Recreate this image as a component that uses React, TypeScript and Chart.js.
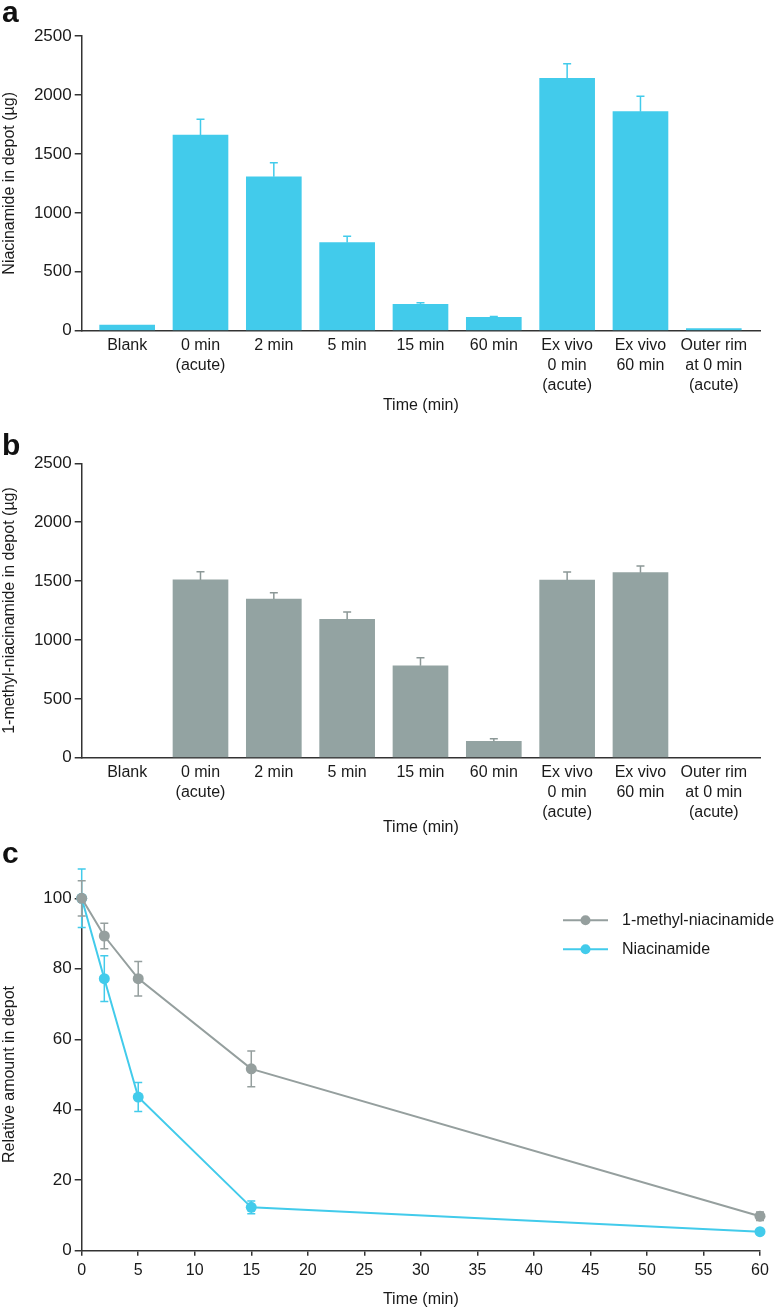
import React, { useEffect, useRef } from 'react';
import { Chart, registerables } from 'chart.js';

Chart.register(...registerables);

// ---------- data ----------
const CATEGORIES: string[][] = [
  ['Blank'],
  ['0 min', '(acute)'],
  ['2 min'],
  ['5 min'],
  ['15 min'],
  ['60 min'],
  ['Ex vivo', '0 min', '(acute)'],
  ['Ex vivo', '60 min'],
  ['Outer rim', 'at 0 min', '(acute)'],
];
const BAR_Y_TICKS = [0, 500, 1000, 1500, 2000, 2500];

const NIA_AMOUNT = [48, 1660, 1305, 748, 224, 113, 2140, 1858, 17];
const NIA_AMOUNT_ERR = [0, 133, 119, 54, 14, 8, 124, 130, 0];

const MNA_AMOUNT: (number | null)[] = [null, 1510, 1348, 1175, 781, 139, 1509, 1571, null];
const MNA_AMOUNT_ERR = [0, 70, 53, 62, 68, 22, 68, 57, 0];

const TIMES = [0, 2, 5, 15, 60];
const MNA_REL = [100, 89.3, 77.2, 51.6, 9.8];
const MNA_REL_ERR = [5, 3.6, 4.9, 5.1, 1.2];
const NIA_REL = [100, 77.2, 43.6, 12.3, 5.4];
const NIA_REL_ERR = [8.3, 6.5, 4.1, 1.8, 0.5];
const LINE_X_TICKS = [0, 5, 10, 15, 20, 25, 30, 35, 40, 45, 50, 55, 60];
const LINE_Y_TICKS = [0, 20, 40, 60, 80, 100];

// ---------- styles ----------
const CYAN = '#42CBEB';
const GRAY_BAR = '#93A3A2';
const GRAY_LINE = '#959F9E';
const AXIS = '#333333';
const TEXT = '#1a1a1a';
const FONT = "'Liberation Sans', Arial, Helvetica, sans-serif";

Chart.defaults.font.family = FONT;
Chart.defaults.font.size = 16;
Chart.defaults.color = TEXT;

const barErrorPlugin = {
  id: 'barErrors',
  afterDatasetsDraw(chart: any) {
    const ctx = chart.ctx;
    const ys = chart.scales.y;
    chart.data.datasets.forEach((ds: any, di: number) => {
      const meta = chart.getDatasetMeta(di);
      if (!ds.errors) return;
      ctx.save();
      ctx.strokeStyle = ds.errorColor;
      ctx.lineWidth = 1.5;
      meta.data.forEach((el: any, i: number) => {
        const raw = ds.data[i];
        const e = ds.errors[i];
        if (!raw || raw.y == null || !e) return;
        const top = ys.getPixelForValue(raw.y + e);
        ctx.beginPath();
        ctx.moveTo(el.x, el.y);
        ctx.lineTo(el.x, top);
        ctx.moveTo(el.x - 4, top);
        ctx.lineTo(el.x + 4, top);
        ctx.stroke();
      });
      ctx.restore();
    });
  },
};

const lineErrorPlugin = {
  id: 'lineErrors',
  beforeDatasetsDraw(chart: any) {
    const ctx = chart.ctx;
    const ys = chart.scales.y;
    for (let di = chart.data.datasets.length - 1; di >= 0; di--) {
      const ds: any = chart.data.datasets[di];
      const meta = chart.getDatasetMeta(di);
      ctx.save();
      ctx.strokeStyle = ds.borderColor;
      ctx.lineWidth = 1.5;
      meta.data.forEach((el: any, i: number) => {
        const v = ds.data[i].y;
        const e = ds.errors[i];
        const hi = ys.getPixelForValue(v + e);
        const lo = ys.getPixelForValue(v - e);
        ctx.beginPath();
        ctx.moveTo(el.x, hi);
        ctx.lineTo(el.x, lo);
        ctx.moveTo(el.x - 4, hi);
        ctx.lineTo(el.x + 4, hi);
        ctx.moveTo(el.x - 4, lo);
        ctx.lineTo(el.x + 4, lo);
        ctx.stroke();
      });
      ctx.restore();
    }
  },
};

const lineLegendPlugin = {
  id: 'lineLegend',
  afterDraw(chart: any) {
    const ctx = chart.ctx;
    const area = chart.chartArea;
    const x0 = area.right - 197;
    const rowY = [area.top + 22, area.top + 51];
    ctx.save();
    chart.data.datasets.forEach((ds: any, i: number) => {
      const y = rowY[i];
      ctx.strokeStyle = ds.borderColor;
      ctx.lineWidth = 2;
      ctx.beginPath();
      ctx.moveTo(x0, y);
      ctx.lineTo(x0 + 45, y);
      ctx.stroke();
      ctx.fillStyle = ds.borderColor;
      ctx.beginPath();
      ctx.arc(x0 + 22.5, y, 5, 0, Math.PI * 2);
      ctx.fill();
      ctx.fillStyle = TEXT;
      ctx.font = `16px ${FONT}`;
      ctx.textBaseline = 'middle';
      ctx.textAlign = 'left';
      ctx.fillText(ds.label, x0 + 59, y);
    });
    ctx.restore();
  },
};

function yAxisCommon(title: string, width: number) {
  return {
    afterFit: (s: any) => {
      s.width = width;
    },
    grid: { drawOnChartArea: false, drawTicks: true, tickLength: 7, color: AXIS, lineWidth: 1.5 },
    border: { display: true, color: AXIS, width: 1.5 },
    ticks: { padding: 3, color: TEXT, font: { size: 17 }, callback: (v: number) => String(v) },
    title: { display: true, text: title, padding: 0, color: TEXT, font: { size: 16, lineHeight: 1.2 } },
  };
}

function barConfig(values: (number | null)[], errs: number[], color: string, errColor: string, yTitle: string, padTop: number, xHeight: number) {
  return {
    type: 'bar',
    data: {
      datasets: [
        {
          data: values.map((v, i) => ({ x: i, y: v })),
          backgroundColor: color,
          barThickness: 55,
          errors: errs,
          errorColor: errColor,
        },
      ],
    },
    plugins: [barErrorPlugin],
    options: {
      animation: false,
      responsive: false,
      events: [],
      layout: { padding: { top: padTop, right: 20, left: 0, bottom: 0 } },
      plugins: { legend: { display: false }, tooltip: { enabled: false } },
      scales: {
        x: {
          type: 'linear',
          min: -0.62,
          max: 8.63,
          offset: false,
          afterFit: (s: any) => {
            s.height = xHeight;
          },
          afterBuildTicks: (s: any) => {
            s.ticks = CATEGORIES.map((_, i) => ({ value: i }));
          },
          grid: { display: false, drawTicks: false, offset: false },
          border: { display: true, color: AXIS, width: 1.5 },
          ticks: {
            autoSkip: false,
            maxRotation: 0,
            padding: 5,
            color: TEXT,
            font: { size: 16, lineHeight: 1.25 },
            callback: (v: number) => CATEGORIES[Math.round(v)] ?? '',
          },
          title: { display: true, text: 'Time (min)', padding: 0, color: TEXT, font: { size: 16, lineHeight: 1.2 } },
        },
        y: {
          min: 0,
          max: 2500,
          afterBuildTicks: (s: any) => {
            s.ticks = BAR_Y_TICKS.map((v) => ({ value: v }));
          },
          ...yAxisCommon(yTitle, 81.7),
        },
      },
    },
  };
}

function lineConfig() {
  const pointDs = (label: string, ys: number[], errs: number[], color: string) => ({
    label,
    data: TIMES.map((t, i) => ({ x: t, y: ys[i] })),
    borderColor: color,
    backgroundColor: color,
    borderWidth: 2,
    pointRadius: 5.5,
    pointBorderWidth: 0,
    pointBackgroundColor: color,
    clip: false,
    errors: errs,
  });
  return {
    type: 'line',
    data: {
      datasets: [
        pointDs('1-methyl-niacinamide', MNA_REL, MNA_REL_ERR, GRAY_LINE),
        pointDs('Niacinamide', NIA_REL, NIA_REL_ERR, CYAN),
      ],
    },
    plugins: [lineErrorPlugin, lineLegendPlugin],
    options: {
      animation: false,
      responsive: false,
      events: [],
      layout: { padding: { top: 61.3, right: 20, left: 0, bottom: 0 } },
      plugins: { legend: { display: false }, tooltip: { enabled: false } },
      scales: {
        x: {
          type: 'linear',
          min: 0,
          max: 60,
          afterFit: (s: any) => {
            s.height = 58.3;
          },
          afterBuildTicks: (s: any) => {
            s.ticks = LINE_X_TICKS.map((v) => ({ value: v }));
          },
          grid: { drawOnChartArea: false, drawTicks: true, tickLength: 5, color: AXIS, lineWidth: 1.5 },
          border: { display: true, color: AXIS, width: 1.5 },
          ticks: { padding: 5, maxRotation: 0, autoSkip: false, color: TEXT, font: { size: 16, lineHeight: 1.2 } },
          title: { display: true, text: 'Time (min)', padding: 0, color: TEXT, font: { size: 16, lineHeight: 1.2 } },
        },
        y: {
          min: 0,
          max: 100,
          afterBuildTicks: (s: any) => {
            s.ticks = LINE_Y_TICKS.map((v) => ({ value: v }));
          },
          ...yAxisCommon('Relative amount in depot', 81.7),
        },
      },
    },
  };
}

function ChartCanvas({ config, top, height }: { config: () => any; top: number; height: number }) {
  const ref = useRef<HTMLCanvasElement | null>(null);
  useEffect(() => {
    if (!ref.current) return;
    const chart = new Chart(ref.current, config());
    return () => chart.destroy();
  }, []);
  return (
    <canvas
      ref={ref}
      width={780}
      height={height}
      style={{ position: 'absolute', left: 0, top, width: 780, height, display: 'block' }}
    />
  );
}

function PanelLetter({ letter, top }: { letter: string; top: number }) {
  return (
    <div
      style={{
        position: 'absolute',
        left: 2,
        top,
        fontFamily: FONT,
        fontWeight: 'bold',
        fontSize: 30,
        lineHeight: '30px',
        color: '#111',
      }}
    >
      {letter}
    </div>
  );
}

export default function App() {
  return (
    <div style={{ position: 'absolute', left: 0, top: 0, width: 780, height: 1310, background: '#fff', overflow: 'hidden' }}>
      <ChartCanvas
        top={0}
        height={415}
        config={() => barConfig(NIA_AMOUNT, NIA_AMOUNT_ERR, CYAN, CYAN, 'Niacinamide in depot (µg)', 36, 84.3)}
      />
      <ChartCanvas
        top={415}
        height={422}
        config={() => barConfig(MNA_AMOUNT, MNA_AMOUNT_ERR, GRAY_BAR, '#8C9897', '1-methyl-niacinamide in depot (µg)', 48.3, 79.3)}
      />
      <ChartCanvas top={837} height={472} config={lineConfig} />
      <PanelLetter letter="a" top={-3} />
      <PanelLetter letter="b" top={430} />
      <PanelLetter letter="c" top={838} />
    </div>
  );
}
